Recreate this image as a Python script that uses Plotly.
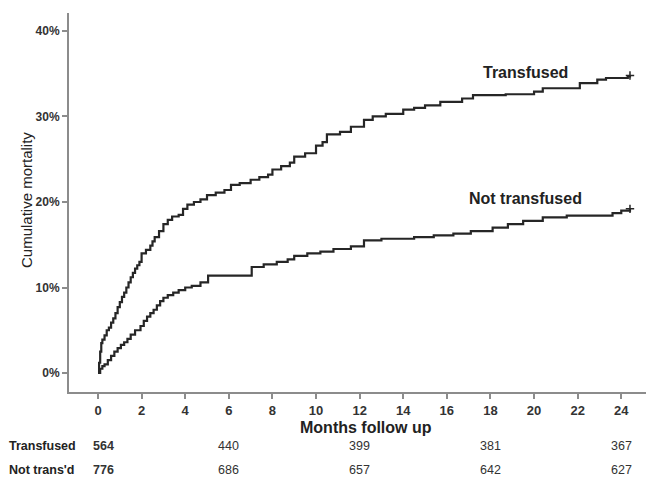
import plotly.graph_objects as go

# Transfused cumulative mortality (step function)
trans_months = [0, 0.05, 0.1, 0.15, 0.2, 0.3, 0.4, 0.5, 0.6, 0.7, 0.8, 0.9, 1.0, 1.1, 1.2, 1.3, 1.4, 1.5,
                1.6, 1.7, 1.8, 1.9, 2.0, 2.2, 2.4, 2.5, 2.6, 2.8, 3.0, 3.2, 3.4, 3.7, 3.9, 4.1, 4.4, 4.7,
                5.0, 5.4, 5.8, 6.1, 6.5, 7.0, 7.4, 7.8, 8.0, 8.4, 8.8, 9.0, 9.5, 10.0, 10.3, 10.5, 11.1,
                11.6, 12.2, 12.6, 13.2, 14.0, 14.5, 15.0, 15.7, 16.7, 17.2, 18.7, 20.0, 20.4, 22.1, 22.9,
                23.3, 24.3, 24.4]
trans_pct = [0, 1.2, 2.5, 3.5, 3.9, 4.4, 5.0, 5.3, 5.9, 6.4, 7.0, 7.7, 8.3, 8.9, 9.4, 10.0, 10.6, 11.2,
             11.7, 12.2, 12.6, 13.0, 14.0, 14.4, 14.9, 15.4, 15.9, 16.6, 17.4, 17.9, 18.3, 18.5, 19.2, 19.7, 20.0, 20.3,
             20.8, 21.1, 21.4, 22.0, 22.2, 22.6, 22.9, 23.2, 23.8, 24.2, 24.6, 25.3, 25.7, 26.6, 27.0, 27.9, 28.2,
             28.8, 29.6, 30.0, 30.3, 30.8, 31.0, 31.3, 31.7, 32.1, 32.5, 32.6, 32.9, 33.3, 33.9, 34.3,
             34.5, 34.7, 34.8]

# Not transfused cumulative mortality (step function)
nottrans_months = [0, 0.1, 0.2, 0.3, 0.45, 0.6, 0.75, 0.9, 1.05, 1.2, 1.35, 1.5, 1.7, 1.95, 2.1, 2.25, 2.4,
                   2.55, 2.7, 2.85, 3.0, 3.2, 3.45, 3.7, 4.0, 4.3, 4.7, 5.05, 7.05, 7.6, 8.2, 8.7, 9.0, 9.6,
                   10.2, 10.8, 11.6, 12.2, 13.0, 14.5, 15.4, 16.3, 17.1, 18.1, 18.8, 19.5, 20.4, 21.5, 23.6,
                   24.0, 24.4]
nottrans_pct = [0, 0.5, 0.8, 1.0, 1.5, 2.0, 2.5, 2.9, 3.3, 3.6, 4.0, 4.5, 5.0, 5.5, 6.1, 6.6, 7.0,
                7.4, 7.9, 8.4, 8.8, 9.1, 9.4, 9.7, 10.0, 10.2, 10.6, 11.4, 12.4, 12.7, 13.0, 13.3, 13.7, 14.0,
                14.2, 14.5, 14.8, 15.5, 15.7, 15.9, 16.1, 16.3, 16.6, 17.0, 17.4, 17.8, 18.2, 18.4, 18.7,
                19.0, 19.2]

# Numbers at risk
risk_months = [0.25, 6, 12, 18, 24]
risk_transfused = [564, 440, 399, 381, 367]
risk_not_transfused = [776, 686, 657, 642, 627]
risk_rows = ["Transfused", "Not trans'd"]

x_ticks = list(range(0, 25, 2))
y_ticks = [0, 10, 20, 30, 40]

assert len(trans_months) == len(trans_pct)
assert len(nottrans_months) == len(nottrans_pct)

line_col = "#262626"
axis_col = "#8c8c8c"
font_fam = "Liberation Sans, Arial, sans-serif"

# page body has an 8px default margin; compensate so the plot sits where the reference has it
OFF = 8
ML, MR, MT, MB = 69 - OFF, 2, 13 - OFF, 87
W, H = 654 - OFF, 479 - OFF

fig = go.Figure()
for xs, ys in [(trans_months, trans_pct), (nottrans_months, nottrans_pct)]:
    fig.add_trace(go.Scatter(x=xs, y=ys, mode="lines", line=dict(color=line_col, width=2.2, shape="hv"),
                             showlegend=False, hoverinfo="skip"))
    fig.add_trace(go.Scatter(x=[xs[-1]], y=[ys[-1]], mode="markers",
                             marker=dict(symbol="cross-thin", size=6, line=dict(color=line_col, width=1.5)),
                             showlegend=False, hoverinfo="skip"))

fig.update_layout(
    width=W, height=H,
    margin=dict(l=ML, r=MR, t=MT, b=MB, autoexpand=False),
    paper_bgcolor="white", plot_bgcolor="white",
    font=dict(family=font_fam, color="#333333"),
    xaxis=dict(range=[-1.33, 25.41], tickvals=x_ticks, ticktext=[f"<b>{v}</b>" for v in x_ticks],
               ticks="outside", ticklen=5, tickwidth=1.5,
               tickcolor=axis_col, showline=True, linecolor=axis_col, linewidth=2, showgrid=False,
               zeroline=False, tickfont=dict(size=13, color="#333333", family=font_fam)),
    yaxis=dict(range=[-2.22, 42.1], tickvals=y_ticks, ticktext=[f"<b>{v}%</b>" for v in y_ticks],
               ticks="outside", ticklen=5,
               tickwidth=1.5, tickcolor=axis_col, showline=True, linecolor=axis_col, linewidth=2,
               showgrid=False, zeroline=False, tickfont=dict(size=12, color="#333333", family=font_fam)),
)

ann = []
ann.append(dict(text="<b>Transfused</b>", x=19.6, y=35.2, xref="x", yref="y",
                font=dict(size=16, color="#222222")))
ann.append(dict(text="<b>Not transfused</b>", x=19.6, y=20.4, xref="x", yref="y",
                font=dict(size=16, color="#222222")))
ann.append(dict(text="Cumulative mortality", x=26, y=200, xref="paper", yref="paper",
                textangle=-90, font=dict(size=15, color="#222222")))
ann.append(dict(text="<b>Months follow up</b>", x=366, y=427, xref="paper", yref="paper",
                font=dict(size=16, color="#222222")))
for row_label, vals, ypix in [(risk_rows[0], risk_transfused, 446), (risk_rows[1], risk_not_transfused, 470)]:
    ann.append(dict(text=f"<b>{row_label}</b>", x=7, y=ypix, xref="paper", yref="paper",
                    xanchor="left", font=dict(size=12.5, color="#222222")))
    for i, (m, v) in enumerate(zip(risk_months, vals)):
        ann.append(dict(text=(f"<b>{v}</b>" if i == 0 else str(v)), x=m, y=ypix, xref="x", yref="paper",
                        font=dict(size=12.5, color="#333333")))

# convert reference-pixel paper coords into paper fractions of the plot area
plot_w = W - ML - MR
plot_h = H - MT - MB
for a in ann:
    a["showarrow"] = False
    a.setdefault("xanchor", "center")
    a["yanchor"] = "middle"
    if a.get("xref") == "paper":
        a["x"] = (a["x"] - OFF - ML) / plot_w
    if a.get("yref") == "paper":
        a["y"] = (OFF + MT + plot_h - a["y"]) / plot_h
fig.update_layout(annotations=ann)

fig.write_html("out.html")
